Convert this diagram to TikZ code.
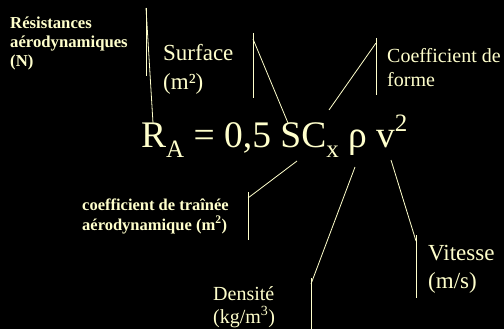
\documentclass[tikz,border=0pt]{standalone}
\usepackage{fontspec}
\setmainfont{Liberation Serif}
\usetikzlibrary{positioning}
\definecolor{chalk}{RGB}{255,255,204}

\begin{document}
\begin{tikzpicture}[
    x=1pt, y=-1pt,
    lbl/.style={text=chalk, anchor=base west, inner sep=0pt, align=left},
    boldlbl/.style={lbl, font=\bfseries\fontsize{16.7}{19.5}\selectfont},
    bigeq/.style={lbl, font=\fontsize{37.5}{40}\selectfont},
    callout/.style={draw=chalk, line width=0.8pt}
]
% Background
\fill[black] (0,0) rectangle (504,329);
\useasboundingbox (0,0) rectangle (504,329);

% Equation
\node[bigeq] (eq) at (141,147) {R\raisebox{-0.28em}{\fontsize{25}{25}\selectfont A} = 0,5 SC\raisebox{-0.28em}{\fontsize{25}{25}\selectfont x} ρ v\raisebox{0.42em}{\fontsize{25}{25}\selectfont 2}};

% Labels (placed at the baseline of their last line)
\node[boldlbl] (res) at (10,67) {Résistances\\aérodynamiques\\(N)};
\node[lbl, font=\fontsize{23}{29}\selectfont] (surf) at (163,90) {Surface\\(m²)};
\node[lbl, font=\fontsize{20}{24}\selectfont] (forme) at (387,87) {Coefficient de\\forme};
\node[boldlbl, font=\bfseries\fontsize{16.5}{20}\selectfont] (trainee) at (82,230) {coefficient de traînée\\aérodynamique (m\textsuperscript{2})};
\node[lbl, font=\fontsize{20}{23}\selectfont] (dens) at (213,323) {Densité\\(kg/m\textsuperscript{3})};
\node[lbl, font=\fontsize{23}{28}\selectfont] (vit) at (428,288) {Vitesse\\(m/s)};

% Callout brackets and their tips
\coordinate (resTop) at (146,8);   \coordinate (resBot) at (146,76);  \coordinate (resTip) at (153,123);
\coordinate (surfTop) at (253,33); \coordinate (surfBot) at (253,98); \coordinate (surfTip) at (288,123);
\coordinate (formeTop) at (376,38); \coordinate (formeBot) at (376,95); \coordinate (formeTip) at (329,110);
\coordinate (trTop) at (248,192);  \coordinate (trBot) at (248,240);  \coordinate (trTip) at (297,161);
\coordinate (densTop) at (311,278); \coordinate (densBot) at (311,329); \coordinate (densTip) at (355,167);
\coordinate (vitTop) at (416,235); \coordinate (vitBot) at (416,298); \coordinate (vitTip) at (391,160);

\draw[callout] (resTop) -- (resBot);
\draw[callout] (resTop) -- (resTip);
\draw[callout] (surfTop) -- (surfBot);
\draw[callout] ([yshift=-6pt]surfTop) -- (surfTip);
\draw[callout] (formeTop) -- (formeBot);
\draw[callout] ([yshift=-5pt]formeTop) -- (formeTip);
\draw[callout] (trTop) -- (trBot);
\draw[callout] ([yshift=-6pt]trTop) -- (trTip);
\draw[callout] (densTop) -- (densBot);
\draw[callout] ([yshift=-6pt]densTop) -- (densTip);
\draw[callout] (vitTop) -- (vitBot);
\draw[callout] ([yshift=-6pt]vitTop) -- (vitTip);
\end{tikzpicture}
\end{document}
